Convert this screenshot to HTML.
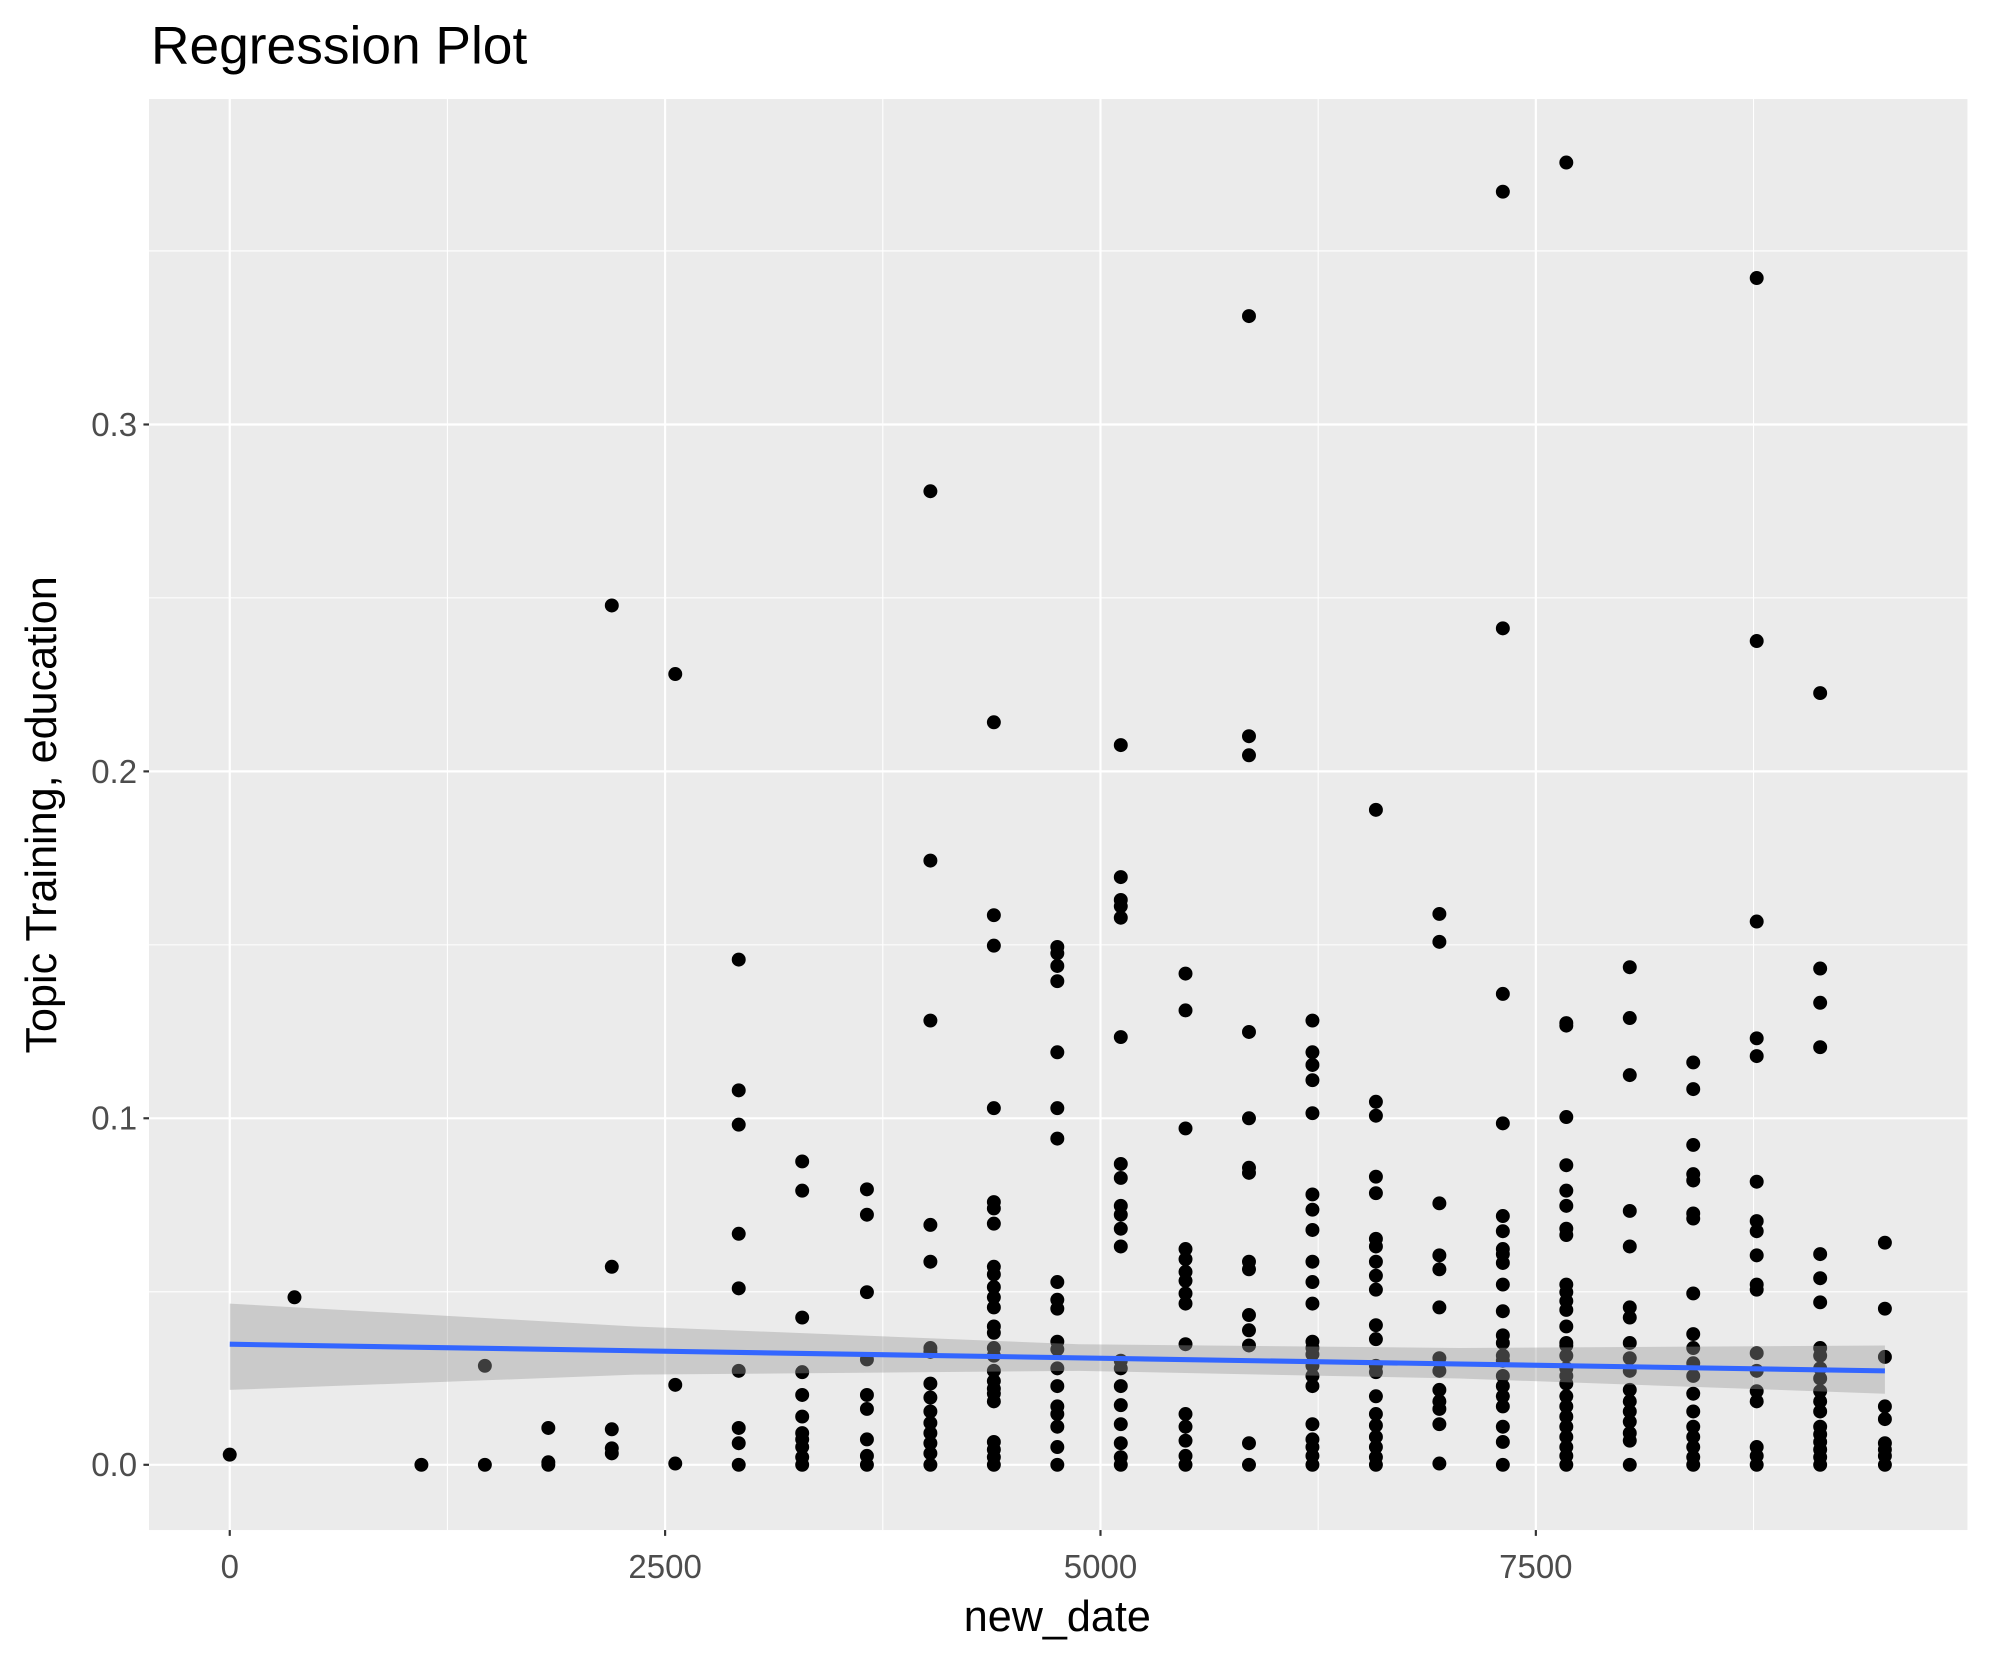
<!DOCTYPE html>
<html><head><meta charset="utf-8"><style>html,body{margin:0;padding:0;background:#fff}svg{display:block}</style></head><body>
<svg width="1990" height="1665" viewBox="0 0 1567.8 1311.7" xmlns="http://www.w3.org/2000/svg" font-family="Liberation Sans, sans-serif">
<rect x="0" y="0" width="1567.8" height="1311.7" fill="#fff"/>
<rect x="117.4" y="78" width="1432.6" height="1127.4" fill="#EBEBEB"/>
<g stroke="#fff" stroke-width="0.85">
<line x1="352.5" y1="78" x2="352.5" y2="1205.4"/><line x1="695.5" y1="78" x2="695.5" y2="1205.4"/><line x1="1038.5" y1="78" x2="1038.5" y2="1205.4"/><line x1="1381.5" y1="78" x2="1381.5" y2="1205.4"/>
<line x1="117.4" y1="1017.7" x2="1550" y2="1017.7"/><line x1="117.4" y1="744.4" x2="1550" y2="744.4"/><line x1="117.4" y1="471" x2="1550" y2="471"/><line x1="117.4" y1="197.7" x2="1550" y2="197.7"/>
</g>
<g stroke="#fff" stroke-width="1.7">
<line x1="181" y1="78" x2="181" y2="1205.4"/><line x1="524" y1="78" x2="524" y2="1205.4"/><line x1="867" y1="78" x2="867" y2="1205.4"/><line x1="1210" y1="78" x2="1210" y2="1205.4"/>
<line x1="117.4" y1="1154" x2="1550" y2="1154"/><line x1="117.4" y1="881" x2="1550" y2="881"/><line x1="117.4" y1="607.7" x2="1550" y2="607.7"/><line x1="117.4" y1="334.4" x2="1550" y2="334.4"/>
</g>
<g fill="none" stroke="#000" stroke-width="11" stroke-linecap="round">
<path d="M181 1146h0"/>
<path d="M232 1022h0"/>
<path d="M332 1154h0"/>
<path d="M382 1076h0M382 1154h0"/>
<path d="M432 1125h0M432 1152h0M432 1154h0"/>
<path d="M482 477h0M482 998h0M482 1126h0M482 1141h0M482 1145h0"/>
<path d="M532 531h0M532 1091h0M532 1153h0"/>
<path d="M582 756h0M582 859h0M582 886h0M582 972h0M582 1015h0M582 1080h0M582 1125h0M582 1137h0M582 1154h0"/>
<path d="M632 915h0M632 938h0M632 1038h0M632 1081h0M632 1099h0M632 1116h0M632 1129h0M632 1134h0M632 1140h0M632 1148h0M632 1154h0"/>
<path d="M683 937h0M683 957h0M683 1018h0M683 1071h0M683 1099h0M683 1110h0M683 1134h0M683 1147h0M683 1154h0"/>
<path d="M733 387h0M733 678h0M733 804h0M733 965h0M733 994h0M733 1062h0M733 1065h0M733 1090h0M733 1101h0M733 1112h0M733 1121h0M733 1129h0M733 1137h0M733 1145h0M733 1154h0"/>
<path d="M783 569h0M783 721h0M783 745h0M783 873h0M783 947h0M783 952h0M783 964h0M783 998h0M783 1004h0M783 1014h0M783 1022h0M783 1030h0M783 1045h0M783 1050h0M783 1062h0M783 1068h0M783 1080h0M783 1088h0M783 1094h0M783 1098h0M783 1104h0M783 1136h0M783 1142h0M783 1148h0M783 1154h0"/>
<path d="M833 746h0M833 751h0M833 761h0M833 773h0M833 829h0M833 873h0M833 897h0M833 1010h0M833 1024h0M833 1031h0M833 1057h0M833 1063h0M833 1078h0M833 1092h0M833 1108h0M833 1114h0M833 1124h0M833 1140h0M833 1154h0"/>
<path d="M883 587h0M883 691h0M883 709h0M883 714h0M883 723h0M883 817h0M883 917h0M883 928h0M883 950h0M883 957h0M883 968h0M883 982h0M883 1072h0M883 1078h0M883 1092h0M883 1107h0M883 1122h0M883 1137h0M883 1148h0M883 1154h0"/>
<path d="M934 767h0M934 796h0M934 889h0M934 984h0M934 992h0M934 1002h0M934 1009h0M934 1019h0M934 1027h0M934 1059h0M934 1114h0M934 1124h0M934 1135h0M934 1147h0M934 1154h0"/>
<path d="M984 249h0M984 580h0M984 595h0M984 813h0M984 881h0M984 920h0M984 924h0M984 994h0M984 1000h0M984 1036h0M984 1048h0M984 1060h0M984 1137h0M984 1154h0"/>
<path d="M1034 804h0M1034 829h0M1034 839h0M1034 851h0M1034 877h0M1034 941h0M1034 953h0M1034 969h0M1034 994h0M1034 1010h0M1034 1027h0M1034 1057h0M1034 1062h0M1034 1067h0M1034 1076h0M1034 1084h0M1034 1092h0M1034 1122h0M1034 1134h0M1034 1140h0M1034 1147h0M1034 1154h0"/>
<path d="M1084 638h0M1084 868h0M1084 879h0M1084 927h0M1084 940h0M1084 976h0M1084 982h0M1084 994h0M1084 1005h0M1084 1016h0M1084 1044h0M1084 1055h0M1084 1076h0M1084 1081h0M1084 1100h0M1084 1114h0M1084 1123h0M1084 1132h0M1084 1140h0M1084 1148h0M1084 1154h0"/>
<path d="M1134 720h0M1134 742h0M1134 948h0M1134 989h0M1134 1000h0M1134 1030h0M1134 1070h0M1134 1080h0M1134 1095h0M1134 1104h0M1134 1110h0M1134 1122h0M1134 1153h0"/>
<path d="M1184 151h0M1184 495h0M1184 783h0M1184 885h0M1184 958h0M1184 970h0M1184 984h0M1184 988h0M1184 995h0M1184 1012h0M1184 1033h0M1184 1052h0M1184 1058h0M1184 1068h0M1184 1072h0M1184 1084h0M1184 1092h0M1184 1100h0M1184 1108h0M1184 1124h0M1184 1136h0M1184 1154h0"/>
<path d="M1234 128h0M1234 806h0M1234 808h0M1234 880h0M1234 918h0M1234 938h0M1234 950h0M1234 968h0M1234 973h0M1234 1012h0M1234 1018h0M1234 1025h0M1234 1032h0M1234 1045h0M1234 1058h0M1234 1060h0M1234 1068h0M1234 1078h0M1234 1084h0M1234 1090h0M1234 1100h0M1234 1108h0M1234 1116h0M1234 1124h0M1234 1132h0M1234 1140h0M1234 1147h0M1234 1154h0"/>
<path d="M1284 762h0M1284 802h0M1284 847h0M1284 954h0M1284 982h0M1284 1030h0M1284 1038h0M1284 1058h0M1284 1070h0M1284 1080h0M1284 1095h0M1284 1104h0M1284 1112h0M1284 1120h0M1284 1129h0M1284 1135h0M1284 1154h0"/>
<path d="M1334 837h0M1334 858h0M1334 902h0M1334 925h0M1334 930h0M1334 956h0M1334 960h0M1334 1019h0M1334 1051h0M1334 1062h0M1334 1074h0M1334 1084h0M1334 1098h0M1334 1112h0M1334 1124h0M1334 1132h0M1334 1140h0M1334 1148h0M1334 1154h0"/>
<path d="M1384 219h0M1384 505h0M1384 726h0M1384 818h0M1384 832h0M1384 931h0M1384 962h0M1384 970h0M1384 989h0M1384 1012h0M1384 1016h0M1384 1066h0M1384 1080h0M1384 1096h0M1384 1104h0M1384 1140h0M1384 1147h0M1384 1154h0"/>
<path d="M1434 546h0M1434 763h0M1434 790h0M1434 825h0M1434 988h0M1434 1007h0M1434 1026h0M1434 1062h0M1434 1068h0M1434 1078h0M1434 1086h0M1434 1096h0M1434 1104h0M1434 1112h0M1434 1124h0M1434 1130h0M1434 1136h0M1434 1142h0M1434 1148h0M1434 1154h0"/>
<path d="M1485 979h0M1485 1031h0M1485 1069h0M1485 1108h0M1485 1118h0M1485 1137h0M1485 1142h0M1485 1147h0M1485 1154h0"/>
</g>
<polygon points="181,1027 500,1045 850,1059 1150,1062 1485,1060 1485,1098 1150,1086 850,1080 500,1083 181,1095" fill="#999999" fill-opacity="0.4"/>
<line x1="181" y1="1059" x2="1485" y2="1080" stroke="#3366FF" stroke-width="4"/>
<g stroke="#333" stroke-width="1.7">
<line x1="113" y1="1154" x2="117.4" y2="1154"/><line x1="113" y1="881" x2="117.4" y2="881"/><line x1="113" y1="607.7" x2="117.4" y2="607.7"/><line x1="113" y1="334.4" x2="117.4" y2="334.4"/>
<line x1="181" y1="1205.4" x2="181" y2="1210"/><line x1="524" y1="1205.4" x2="524" y2="1210"/><line x1="867" y1="1205.4" x2="867" y2="1210"/><line x1="1210" y1="1205.4" x2="1210" y2="1210"/>
</g>
<g fill="#4D4D4D" font-size="26" text-anchor="end">
<text x="108" y="1163">0.0</text><text x="108" y="890">0.1</text><text x="108" y="617">0.2</text><text x="108" y="343.5">0.3</text>
</g>
<g fill="#4D4D4D" font-size="26" text-anchor="middle">
<text x="181" y="1243">0</text><text x="524" y="1243">2500</text><text x="867" y="1243">5000</text><text x="1210" y="1243">7500</text>
</g>
<text x="833" y="1285" font-size="34" text-anchor="middle" fill="#000">new_date</text>
<text transform="translate(44,642) rotate(-90)" font-size="34" text-anchor="middle" fill="#000">Topic Training, education</text>
<text x="119" y="50" font-size="42" fill="#000">Regression Plot</text>
</svg>
</body></html>
